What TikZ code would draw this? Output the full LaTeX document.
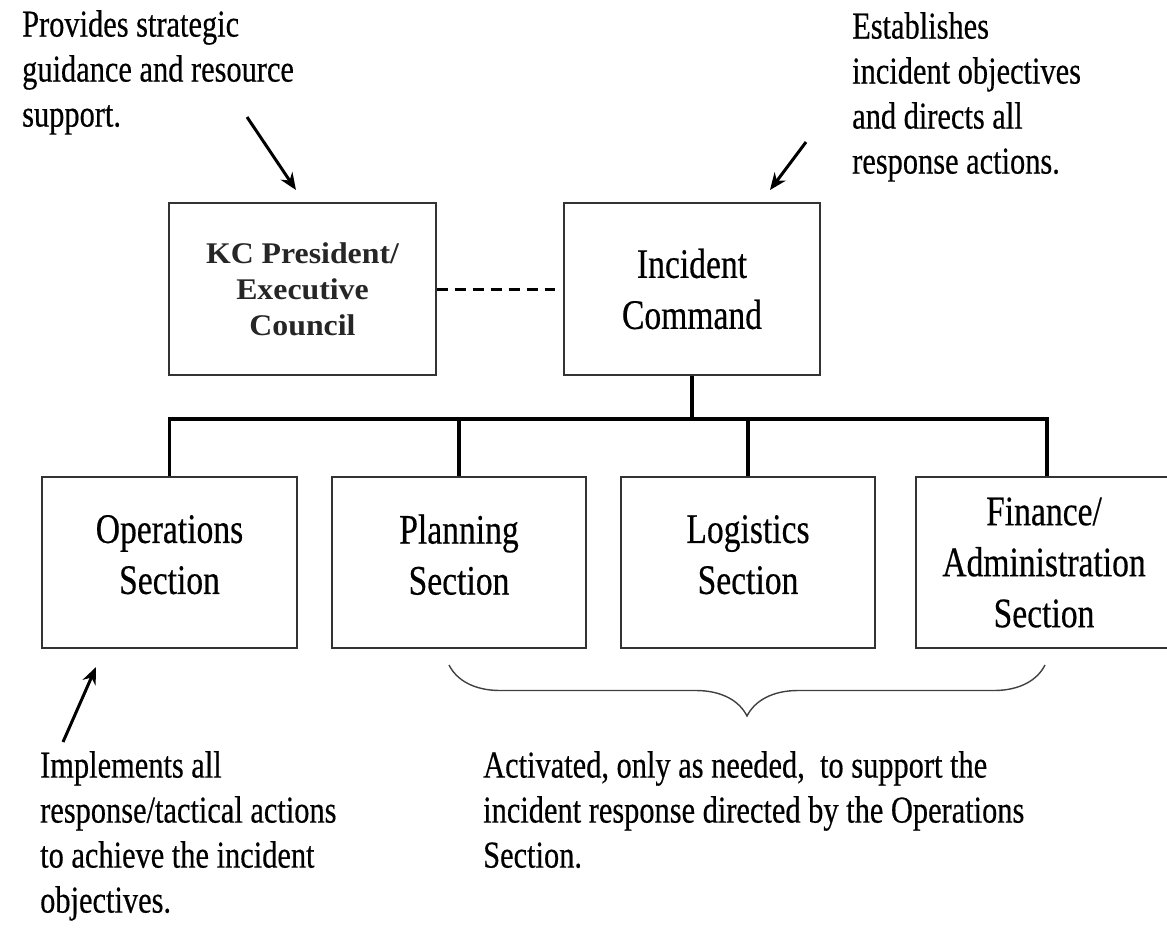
\documentclass[tikz,border=0pt]{standalone}
\usepackage{fontspec}
\setmainfont{Liberation Serif}
\newfontfamily\cnd{Liberation Serif}[FakeStretch=0.8,FakeBold=0.4]
\newfontfamily\kcfam{Liberation Serif}[FakeStretch=1.06]
\usetikzlibrary{arrows.meta,decorations.pathreplacing}
\newcommand\myboxfont{\cnd\fontsize{42}{51}\selectfont}
\newcommand\myannfont{\cnd\fontsize{38}{45}\selectfont}
\newcommand\mykcfont{\kcfam\bfseries\fontsize{30}{36}\selectfont}
\newcommand\upfix{\rule[-16pt]{0pt}{0pt}}
\begin{document}
\begin{tikzpicture}[x=1pt,y=-1pt,
  box/.style={draw=black!80,line width=1.4pt,inner sep=0pt,align=center,font=\myboxfont,minimum height=172pt},
  ann/.style={anchor=north west,inner sep=0pt,align=left,font=\myannfont},
  bus/.style={line width=3.2pt,line join=miter},
  arr/.style={line width=3pt,-{Stealth[length=17pt,width=14pt]}}]
\useasboundingbox (0,0) rectangle (1167,930);
% top boxes
\node[box,font=\mykcfont,text=black!85,minimum width=267pt] (kc) at (302.5,289) {KC President/\\Executive\\Council};
\node[box,minimum width=256pt] (ic) at (692,289) {Incident\\Command};
% bottom boxes
\node[box,minimum width=255pt,minimum height=171pt] (ops) at (169.5,562.5) {Operations\\Section\upfix};
\node[box,minimum width=254pt,minimum height=171pt] (pln) at (459,562.5) {Planning\\Section\upfix};
\node[box,minimum width=254pt,minimum height=171pt] (log) at (748,562.5) {Logistics\\Section\upfix};
\node[box,minimum width=256pt,minimum height=171pt] (fin) at (1044,562.5) {Finance/\\Administration\\Section};
% bus
\coordinate (busy) at (0,419);
\draw[line width=3pt,dash pattern=on 11pt off 7pt] (kc.east) -- ([xshift=-8pt]ic.west);
\draw[bus] (ic.south) -- (ic.south |- busy);
\draw[bus] (ops.north) -- (ops.north |- busy) -- ([xshift=3pt]fin.north |- busy) -- ([xshift=3pt]fin.north);
\draw[bus] (pln.north) -- (pln.north |- busy);
\draw[bus] (log.north) -- (log.north |- busy);
% brace
\coordinate (b1) at (449,665);
\coordinate (b2) at (1045,665);
\draw[black!75,line width=1.4pt,decorate,decoration={brace,mirror,amplitude=51pt}] (b1) -- (b2);
% annotations
\node[ann] (t1) at (22,10) {Provides strategic\\guidance and resource\\support.};
\node[ann] (t2) at (852,12) {Establishes\\incident objectives\\and directs all\\response actions.};
\node[ann] (t3) at (40,751) {Implements all\\response/tactical actions\\to achieve the incident\\objectives.};
\node[ann] (t4) at (483,751) {Activated, only as needed,\ \ to support the\\incident response directed by the Operations\\Section.};
% arrows
\coordinate (a1s) at (247,117);
\coordinate (a1e) at (296,190);
\coordinate (a2s) at (806,142);
\coordinate (a2e) at (770,190);
\coordinate (a3s) at (63,742);
\coordinate (a3e) at (96,667);
\draw[arr] (a1s) -- (a1e);
\draw[arr] (a2s) -- (a2e);
\draw[arr] (a3s) -- (a3e);
\end{tikzpicture}
\end{document}
